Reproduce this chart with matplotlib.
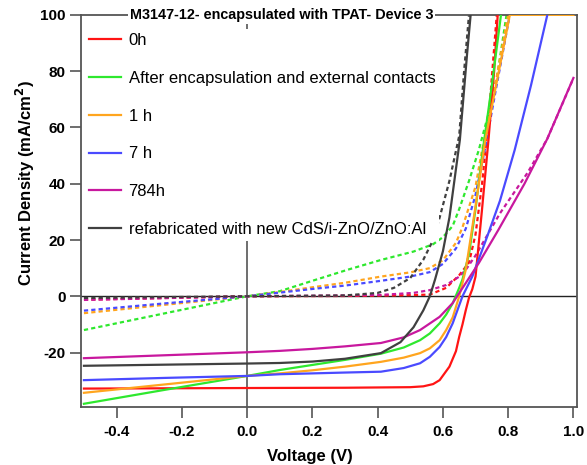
import matplotlib
matplotlib.use("Agg")
import matplotlib.pyplot as plt  # noqa: E402

plt.rcParams["font.family"] = ["Liberation Sans", "DejaVu Sans"]
plt.rcParams["axes.unicode_minus"] = False

# light J-V curves (solid)
red_v = [-0.5, 0.0, 0.3, 0.5, 0.54, 0.57, 0.59, 0.62, 0.64, 0.65, 0.66, 0.67, 0.68, 0.69, 0.70, 0.72, 0.74, 0.757, 0.768]
red_j = [-32.8, -32.6, -32.5, -32.3, -32.0, -31.2, -29.8, -25.0, -19.5, -14.4, -10.0, -5.0, -0.5, 2.5, 7.0, 31.0, 56.0, 80.0, 100.0]

green_v = [-0.5, -0.25, 0.0, 0.1, 0.2, 0.3, 0.41, 0.48, 0.53, 0.56, 0.59, 0.61, 0.63, 0.65, 0.66, 0.68, 0.70, 0.72, 0.75, 0.778]
green_j = [-38.2, -33.2, -28.3, -26.2, -24.4, -22.6, -20.4, -18.2, -15.6, -13.2, -9.6, -6.5, -2.5, 3.0, 6.0, 15.0, 31.0, 50.0, 75.0, 100.0]

orange_v = [-0.5, -0.25, 0.0, 0.1, 0.2, 0.3, 0.41, 0.48, 0.53, 0.56, 0.59, 0.61, 0.63, 0.65, 0.67, 0.70, 0.73, 0.78, 0.805, 1.0]
orange_j = [-34.3, -31.3, -28.3, -27.4, -26.3, -25.0, -23.3, -21.8, -20.2, -18.5, -15.6, -12.0, -7.5, 0.0, 9.4, 32.0, 55.6, 85.0, 100.0, 100.0]

blue_v = [-0.5, -0.25, 0.0, 0.1, 0.2, 0.3, 0.41, 0.48, 0.53, 0.56, 0.59, 0.61, 0.63, 0.66, 0.69, 0.735, 0.775, 0.82, 0.87, 0.92]
blue_j = [-29.8, -29.0, -28.3, -27.7, -27.4, -27.1, -26.8, -25.5, -23.8, -21.5, -18.0, -14.5, -9.6, 0.0, 7.0, 21.0, 34.0, 52.0, 75.0, 100.0]

magenta_v = [-0.5, 0.0, 0.1, 0.2, 0.3, 0.41, 0.48, 0.53, 0.59, 0.63, 0.67, 0.71, 0.77, 0.85, 0.92, 1.0]
magenta_j = [-22.0, -19.9, -19.4, -18.7, -17.8, -16.6, -14.6, -12.0, -7.3, -2.4, 4.7, 11.8, 23.6, 40.0, 56.0, 77.6]

black_v = [-0.5, 0.0, 0.1, 0.2, 0.3, 0.41, 0.47, 0.51, 0.54, 0.56, 0.576, 0.60, 0.62, 0.652, 0.674, 0.685]
black_j = [-24.7, -23.9, -23.7, -23.2, -22.2, -20.2, -16.3, -11.0, -5.0, 0.0, 6.0, 16.0, 28.0, 55.6, 86.0, 100.0]

# dark J-V curves (dashed)
red_dv = [-0.5, 0.0, 0.3, 0.5, 0.56, 0.61, 0.65, 0.68, 0.70, 0.72, 0.74, 0.765]
red_dj = [-1.2, 0.0, 0.1, 0.4, 0.6, 3.0, 7.5, 12.0, 22.0, 40.0, 63.0, 100.0]

green_dv = [-0.5, -0.25, 0.0, 0.1, 0.2, 0.31, 0.41, 0.51, 0.57, 0.6, 0.63, 0.65, 0.68, 0.71, 0.74, 0.766, 0.795]
green_dj = [-12.0, -6.0, 0.0, 1.8, 5.5, 9.5, 12.9, 15.9, 18.5, 21.0, 25.0, 31.0, 41.0, 52.0, 65.0, 78.0, 100.0]

orange_dv = [-0.5, -0.25, 0.0, 0.1, 0.2, 0.3, 0.41, 0.5, 0.56, 0.6, 0.64, 0.66, 0.70, 0.72, 0.76, 0.80]
orange_dj = [-6.0, -3.0, 0.0, 1.5, 3.2, 4.8, 7.0, 8.5, 10.0, 12.8, 19.0, 24.5, 39.0, 52.0, 75.0, 100.0]

blue_dv = [-0.5, -0.25, 0.0, 0.1, 0.2, 0.3, 0.41, 0.5, 0.56, 0.6, 0.64, 0.67, 0.70, 0.73, 0.76, 0.805]
blue_dj = [-5.1, -2.5, 0.0, 1.3, 2.6, 3.8, 5.5, 7.0, 8.6, 11.5, 17.0, 24.0, 36.0, 53.0, 72.0, 100.0]

magenta_dv = [-0.5, 0.0, 0.3, 0.41, 0.51, 0.56, 0.61, 0.65, 0.67, 0.70, 0.775, 0.86, 0.92, 1.0]
magenta_dj = [-1.3, 0.0, 0.3, 0.5, 1.2, 2.2, 4.0, 7.0, 9.4, 14.5, 29.5, 44.0, 56.0, 77.5]

black_dv = [-0.5, 0.0, 0.3, 0.4, 0.45, 0.5, 0.54, 0.57, 0.59, 0.62, 0.65, 0.665, 0.68]
black_dj = [-0.6, 0.0, 0.3, 1.2, 3.0, 6.5, 13.0, 20.0, 28.0, 41.0, 57.0, 80.0, 100.0]

labels = ["0h", "After encapsulation and external contacts", "1 h", "7 h", "784h",
          "refabricated with new CdS/i-ZnO/ZnO:Al"]
colors = ["#ff1414", "#2ee82e", "#ffa51e", "#4a4aff", "#c8189e", "#404040"]
light = [(red_v, red_j), (green_v, green_j), (orange_v, orange_j),
         (blue_v, blue_j), (magenta_v, magenta_j), (black_v, black_j)]
dark = [(red_dv, red_dj), (green_dv, green_dj), (orange_dv, orange_dj),
        (blue_dv, blue_dj), (magenta_dv, magenta_dj), (black_dv, black_dj)]

fig = plt.figure(figsize=(5.87, 4.65), dpi=100)
ax = fig.add_axes([0.138, 0.125, 0.845, 0.843])

ax.axvline(0, color="#555555", lw=1.2, zorder=1)
ax.axhline(0, color="#222222", lw=1.0, zorder=1)

for (v, j), col in zip(dark, colors):
    ax.plot(v, j, color=col, lw=1.6, ls=(0, (1.9, 1.4)), zorder=2)
for (v, j), col, lab in zip(light, colors, labels):
    ax.plot(v, j, color=col, lw=1.6, label=lab, zorder=3)

ax.set_xlim(-0.509, 1.011)
ax.set_ylim(-39.3, 100)
ax.set_xticks([-0.4, -0.2, 0.0, 0.2, 0.4, 0.6, 0.8, 1.0])
ax.set_yticks([-20, 0, 20, 40, 60, 80, 100])
for sp in ax.spines.values():
    sp.set_color("#555555")
    sp.set_linewidth(1.3)
ax.tick_params(direction="out", length=8, width=1.2, color="#555555",
               labelsize=11)
ax.tick_params(axis="x", pad=5)
ax.tick_params(axis="y", pad=3)
for t in ax.get_xticklabels() + ax.get_yticklabels():
    t.set_fontweight("bold")

ax.set_xlabel("Voltage (V)", fontsize=12, fontweight="bold")
ax.xaxis.set_label_coords(0.462, -0.108, transform=ax.transAxes)
ax.xaxis.label.set_va("top")
ax.set_ylabel("Current Density (mA/cm$^\\mathbf{2}$)", fontsize=12,
              fontweight="bold")
ax.yaxis.set_label_coords(-0.088, 0.57, transform=ax.transAxes)

leg = ax.legend(loc="upper left", bbox_to_anchor=(0.0, 0.973), fontsize=12,
                frameon=True, fancybox=False, framealpha=1, edgecolor="none",
                handlelength=1.92, handletextpad=0.48, labelspacing=1.37,
                borderpad=0.25, borderaxespad=0.2)
leg.set_zorder(5)

ax.text(0.404, 1.0, "M3147-12- encapsulated with TPAT- Device 3",
        transform=ax.transAxes, ha="center", va="center", fontsize=10.4,
        fontweight="bold", zorder=6,
        bbox=dict(facecolor="white", edgecolor="none", pad=1.5))

fig.savefig("out.png", dpi=100)
